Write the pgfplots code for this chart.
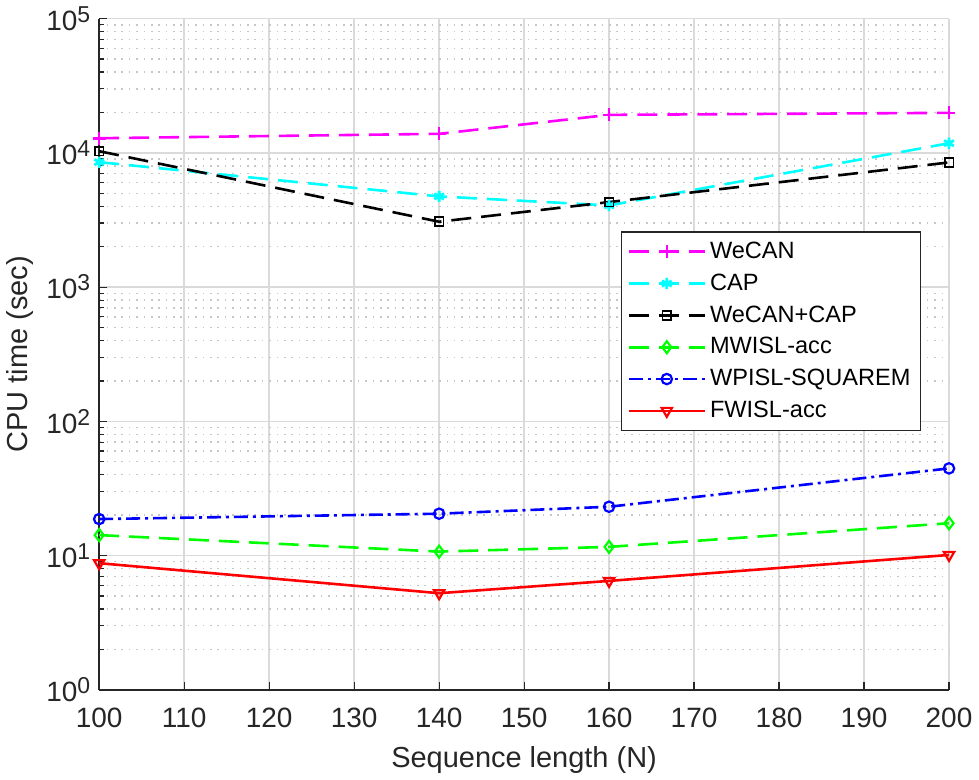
\documentclass[border=0pt]{standalone}
\usepackage{pgfplots}
\pgfplotsset{compat=1.18}
\usepackage{fontspec}
\setmainfont{Liberation Sans}
\definecolor{gridgray}{RGB}{218,218,218}
\definecolor{mmag}{RGB}{255,0,255}
\definecolor{mcyan}{RGB}{0,255,255}
\definecolor{mgreen}{RGB}{0,255,0}
\definecolor{mblue}{RGB}{0,0,255}
\definecolor{mred}{RGB}{255,0,0}
\definecolor{txt}{RGB}{38,38,38}
\newcommand{\tp}[1]{10\raisebox{4pt}{\fontsize{11.5}{12}\selectfont #1}}
\begin{document}
\begin{tikzpicture}
\begin{axis}[
  scale only axis,
  width=425.5pt, height=336pt,
  ymode=log,
  xmin=100, xmax=200, ymin=1, ymax=100000,
  xtick={100,110,...,200},
  ytick={1,10,100,1000,10000,100000},
  yticklabels={\tp{0},\tp{1},\tp{2},\tp{3},\tp{4},\tp{5}},
  /pgf/number format/assume math mode=true,
  xticklabel style={font=\fontsize{14}{16}\selectfont, text=txt, anchor=center, yshift=-14pt},
  yticklabel style={font=\fontsize{14}{16}\selectfont, text=txt, xshift=-1pt},
  axis x line*=bottom, axis y line*=left,
  axis line style={txt, line width=0.8pt, -},
  tick align=inside,
  major tick length=4pt, minor tick length=2.5pt,
  tick style={txt, line width=0.6pt},
  xmajorgrids, ymajorgrids, yminorgrids,
  major grid style={gridgray, line width=0.7pt},
  minor grid style={gray!45, line width=0.7pt, dash pattern=on 0.8pt off 2.9pt},
  xlabel={Sequence length (N)},
  ylabel={CPU time (sec)},
  label style={font=\fontsize{14.5}{16}\selectfont, text=txt},
  xlabel style={at={(axis description cs:0.5,-0.104)}, anchor=center},
  ylabel style={at={(axis description cs:-0.093,0.5)}, anchor=center},
  legend style={at={(0.967,0.683)}, anchor=north east, font=\fontsize{11.8}{13}\selectfont,
    draw=txt, line width=0.6pt, row sep=2.2pt, inner xsep=3pt, inner ysep=3pt},
  legend cell align=left,
  legend image code/.code={\draw[mark repeat=2,mark phase=2] plot coordinates {(0pt,0pt) (19pt,0pt) (38pt,0pt)};},
  every axis plot/.append style={line width=1.3pt},
]
\addplot[mmag, dash pattern=on 10pt off 5pt, mark=+, mark size=3.2pt, mark options={solid}]
  coordinates {(100,12860) (140,13870) (160,19200) (200,19880)};
\addlegendentry{WeCAN}
\addplot[mcyan, dash pattern=on 10pt off 5pt, mark=asterisk, mark size=2.8pt, mark options={solid, line width=1.4pt}]
  coordinates {(100,8530) (140,4740) (160,4060) (200,11800)};
\addlegendentry{CAP}
\addplot[black, dash pattern=on 10pt off 5pt, mark=square, mark size=2.2pt, mark options={solid, line width=0.9pt}]
  coordinates {(100,10300) (140,3070) (160,4300) (200,8490)};
\addlegendentry{WeCAN+CAP}
\addplot[mgreen, dash pattern=on 10pt off 5pt, mark=diamond, mark size=3pt, mark options={solid, line width=1.1pt}]
  coordinates {(100,14.2) (140,10.7) (160,11.6) (200,17.4)};
\addlegendentry{MWISL-acc}
\addplot[mblue, dash pattern=on 7pt off 2.5pt on 1.5pt off 2.5pt, mark=o, mark size=2.6pt, mark options={solid, line width=1.1pt}]
  coordinates {(100,18.7) (140,20.5) (160,23.1) (200,44.6)};
\addlegendentry{WPISL-SQUAREM}
\addplot[mred, solid, mark=triangle, mark size=3pt, mark options={solid, rotate=180, line width=1.1pt}]
  coordinates {(100,8.77) (140,5.24) (160,6.47) (200,10.1)};
\addlegendentry{FWISL-acc}
\end{axis}
\end{tikzpicture}
\end{document}
